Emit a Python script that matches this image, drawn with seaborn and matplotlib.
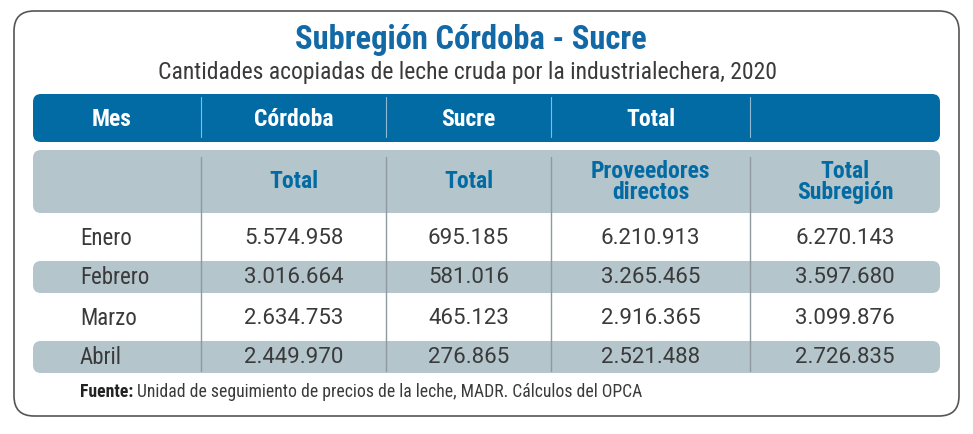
import numpy as np
import pandas as pd
import matplotlib.pyplot as plt
import seaborn as sns
from matplotlib.patches import FancyBboxPatch
from matplotlib import font_manager

# data
meses = ['Enero', 'Febrero', 'Marzo', 'Abril']
cordoba = [5574958, 3016664, 2634753, 2449970]
sucre = [695185, 581016, 465123, 276865]
proveedores = [6210913, 3265465, 2916365, 2521488]
total_subregion = [6270143, 3597680, 3099876, 2726835]

top_headers = ['Mes', 'Córdoba', 'Sucre', 'Total', '']
sub_headers = ['', 'Total', 'Total', 'Proveedores\ndirectos', 'Total\nSubregión']

title = 'Subregión Córdoba - Sucre'
subtitle = 'Cantidades acopiadas de leche cruda por la industrialechera, 2020'
fuente_b = 'Fuente:'
fuente = ' Unidad de seguimiento de precios de la leche, MADR. Cálculos del OPCA'

df = pd.DataFrame({'Mes': meses, 'Córdoba': cordoba, 'Sucre': sucre,
                   'Proveedores': proveedores, 'Subregión': total_subregion})

sns.set_theme(style='white')
installed = {f.name for f in font_manager.fontManager.ttflist}
fam = 'DejaVu Sans'
for cand in ['Roboto Condensed', 'Liberation Sans Narrow', 'DejaVu Sans Condensed']:
    if cand in installed:
        fam = cand
        break
plt.rcParams['font.family'] = [fam, 'DejaVu Sans']

BLUE = '#036ba4'
GREY = '#b4c5cc'
TXT = '#3a3a3a'

fig = plt.figure(figsize=(9.73, 4.35), dpi=100)
ax = fig.add_axes([0, 0, 1, 1])
ax.set_xlim(0, 973)
ax.set_ylim(435, 0)
ax.axis('off')

# layout (pixel-like units)
col_edges = [33, 201, 386, 551, 750, 940]
col_c = [(a + b) / 2 for a, b in zip(col_edges[:-1], col_edges[1:])]
row_c = [239, 278, 319, 358]

# outer frame
ax.add_patch(FancyBboxPatch((14, 12), 945, 405, boxstyle='round,pad=0,rounding_size=20',
                            fc='white', ec='#555555', lw=1.2))

ax.text(471, 40, title, ha='center', va='center', fontsize=23.5, fontweight='bold', color='#1269a5')
ax.text(468, 72, subtitle, ha='center', va='center', fontsize=17, color=TXT)

# header bars
ax.add_patch(FancyBboxPatch((33, 95), 907, 48, boxstyle='round,pad=0,rounding_size=8',
                            fc=BLUE, ec='none'))
ax.add_patch(FancyBboxPatch((33, 151), 907, 63, boxstyle='round,pad=0,rounding_size=8',
                            fc=GREY, ec='none'))
for i in (1, 3):
    ax.add_patch(FancyBboxPatch((33, row_c[i] - 16), 907, 32, boxstyle='round,pad=0,rounding_size=8',
                                fc=GREY, ec='none'))

for x in col_edges[1:-1]:
    ax.plot([x, x], [98, 138], color='#8fb8d4', lw=0.8)
    ax.plot([x, x], [158, 372], color='#8e9aa0', lw=1)

hdr_x = [112] + col_c[1:]
for x, h in zip(hdr_x, top_headers):
    ax.text(x, 120, h, ha='center', va='center', fontsize=17, fontweight='bold', color='white')
for x, h in zip(col_c, sub_headers):
    ax.text(x, 182, h, ha='center', va='center', fontsize=17, fontweight='bold', color=BLUE,
            linespacing=0.9)

def fmt(v):
    return f'{v:,}'.replace(',', '.')

for y, (_, r) in zip(row_c, df.iterrows()):
    ax.text(80, y, r['Mes'], ha='left', va='center', fontsize=16.5, color=TXT)
    for x, key in zip(col_c[1:], ['Córdoba', 'Sucre', 'Proveedores', 'Subregión']):
        ax.text(x, y, fmt(r[key]), ha='center', va='center', fontsize=16,
                family=['Roboto', 'DejaVu Sans'], color=TXT)

t1 = ax.text(80, 392, fuente_b, ha='left', va='center', fontsize=12.7, fontweight='bold', color='#222222')
ax.annotate(fuente, xy=(1, 0), xycoords=t1, ha='left', va='bottom', fontsize=12.7, color=TXT)

plt.savefig('out.png', dpi=100)
